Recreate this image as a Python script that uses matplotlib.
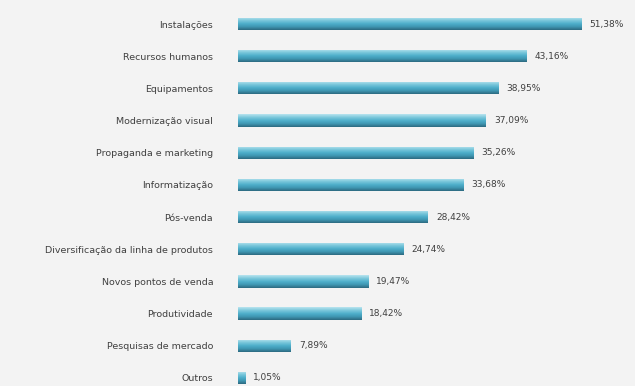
import numpy as np
import matplotlib.pyplot as plt
from matplotlib.colors import LinearSegmentedColormap

categorias = [
    "Instalações",
    "Recursos humanos",
    "Equipamentos",
    "Modernização visual",
    "Propaganda e marketing",
    "Informatização",
    "Pós-venda",
    "Diversificação da linha de produtos",
    "Novos pontos de venda",
    "Produtividade",
    "Pesquisas de mercado",
    "Outros",
]
percentuais = [51.38, 43.16, 38.95, 37.09, 35.26, 33.68, 28.42, 24.74, 19.47, 18.42, 7.89, 1.05]

# cilindro estilo Excel: claro em cima, escuro embaixo
grad = LinearSegmentedColormap.from_list(
    "barra", ["#b8e4ef", "#7cc8dc", "#4fb0cb", "#3f96b2", "#2c6a80"])

fig = plt.figure(figsize=(6.35, 3.86), dpi=100)
fig.patch.set_facecolor("#f3f3f3")
ax = fig.add_axes([0.375, 0.0, 0.625, 1.0])
ax.set_facecolor("#f3f3f3")

y = np.arange(len(categorias))
barras = ax.barh(y, percentuais, height=0.38, color="#4bacc6", zorder=2)

gradiente = np.linspace(0, 1, 64).reshape(-1, 1)
for b in barras:
    x0, y0 = b.get_x(), b.get_y()
    w, h = b.get_width(), b.get_height()
    im = ax.imshow(gradiente, cmap=grad, aspect="auto", origin="upper",
                   extent=(x0, x0 + w, y0 + h, y0), zorder=3)
    im.set_clip_path(b)

for yi, v in zip(y, percentuais):
    ax.text(v + 1.2, yi, f"{v:.2f}%".replace(".", ","), va="center", ha="left",
            fontsize=6.5, color="#404040")

ax.set_xlim(0, 59.4)
ax.set_ylim(11.25, -0.746)
ax.set_yticks(y)
ax.set_yticklabels(categorias, fontsize=6.8, color="#404040")
ax.tick_params(axis="y", length=0, pad=18)
ax.set_xticks([])
for s in ax.spines.values():
    s.set_visible(False)

fig.savefig("out.png", dpi=100, facecolor=fig.get_facecolor())
